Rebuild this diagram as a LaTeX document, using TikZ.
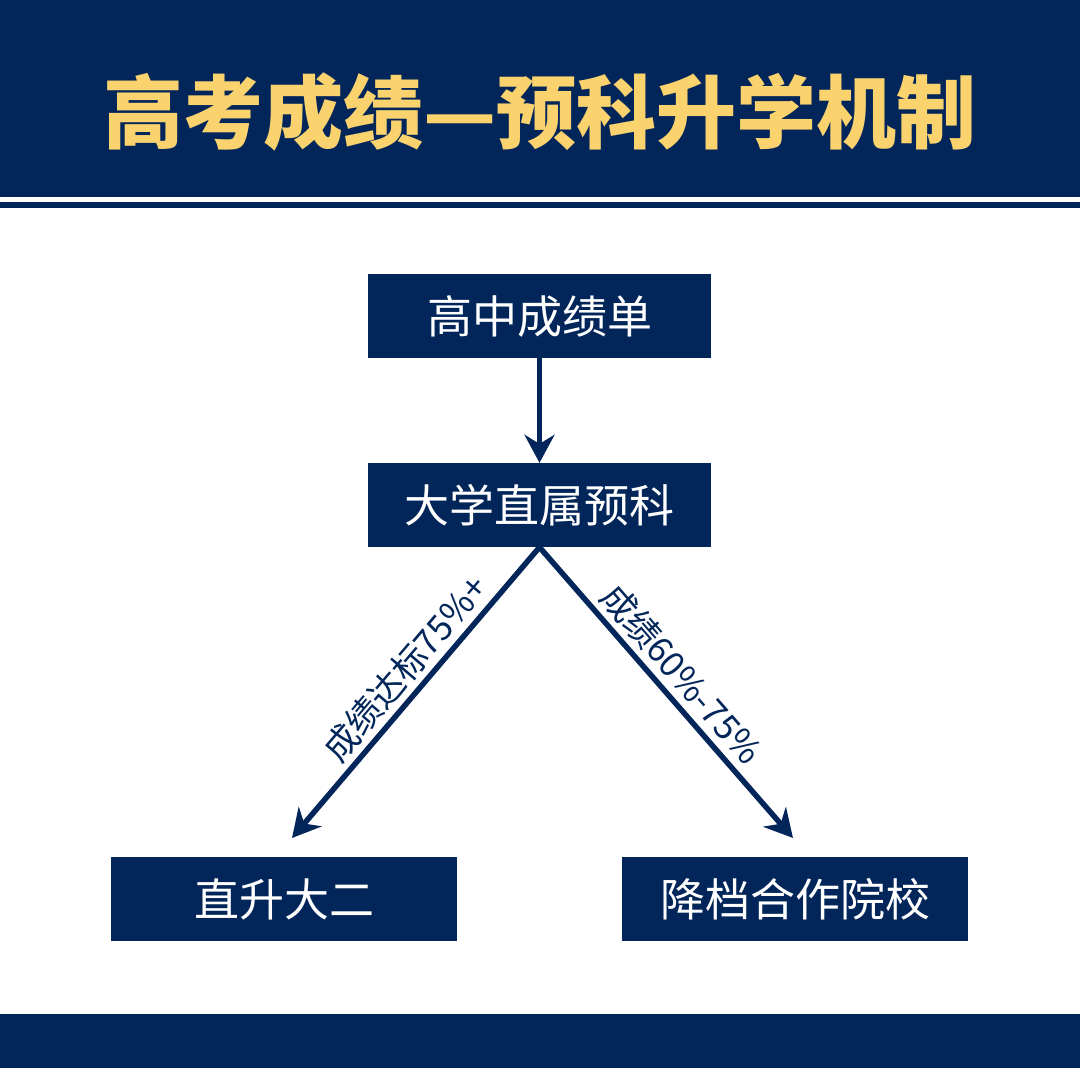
\documentclass[tikz,border=0pt]{standalone}
\usepackage{fontspec}
\newfontfamily\cjk{Noto Sans CJK SC}
\usetikzlibrary{arrows.meta}
\definecolor{navy}{RGB}{2,38,90}
\definecolor{gold}{RGB}{250,210,110}
\tikzset{
  stagebox/.style={fill=navy, text=white, minimum width=343pt, minimum height=84pt,
    inner sep=0pt, font=\cjk\fontsize{45}{52}\selectfont},
  flow/.style={draw=navy, line width=5.5pt, -{Stealth[length=28pt,width=30pt]}},
  rule/.style={font=\cjk\fontsize{35}{40}\selectfont, text=navy, inner sep=5pt}
}
\begin{document}
\begin{tikzpicture}[x=1pt,y=-1pt]
        \useasboundingbox (0,0) rectangle (1080,1068);
        % bands
        \fill[navy] (0,0) rectangle (1080,197);
        \fill[navy] (0,202) rectangle (1080,208);
        \fill[navy] (0,1014) rectangle (1080,1068);
        \node[text=gold, font=\cjk\bfseries\fontsize{80}{92}\selectfont] (title) at (540,112) {高考成绩—预科升学机制};

        \node[stagebox] (transcript) at (539.5,316) {高中成绩单};
        \node[stagebox] (foundation) at (539.5,505) {大学直属预科};
        \node[stagebox, minimum width=346pt] (sophomore) at (284,899) {直升大二};
        \node[stagebox, minimum width=346pt] (partner) at (795,899) {降档合作院校};
        \coordinate (lefttip) at (292,838);
        \coordinate (righttip) at (793,838);

        \draw[flow] (transcript) -- (foundation);
        \draw[flow] (foundation.south) -- node[rule, sloped, above, pos=0.47] {成绩达标75\%+} (lefttip);
        \draw[flow] (foundation.south) -- node[rule, sloped, above, pos=0.49] {成绩60\%-75\%} (righttip);
    \end{tikzpicture}
\end{document}
